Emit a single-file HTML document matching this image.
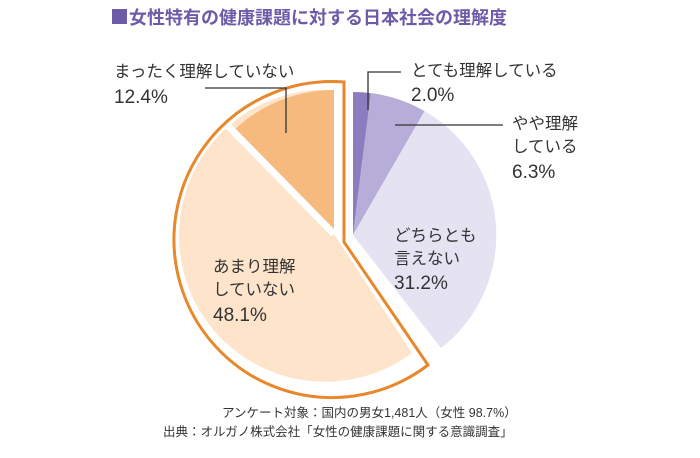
<!DOCTYPE html>
<html><head><meta charset="utf-8"><style>
body{margin:0;background:#fff;}
svg text{font-family:"Liberation Sans","Noto Sans CJK JP",sans-serif;fill:#333;}
</style></head><body>
<svg width="700" height="453" viewBox="0 0 700 453" xmlns="http://www.w3.org/2000/svg">
<rect width="700" height="453" fill="#fff"/>
<rect x="112" y="9" width="15" height="15" fill="#6e5ba8"/>
<text x="129" y="24" font-size="18" font-weight="bold" style="fill:#6e5ba8">女性特有の健康課題に対する日本社会の理解度</text>

<path d="M353,235 L353,92 A143,143 0 0,1 370.9,93.1 Z" fill="#8b7dbf"/>
<path d="M353,235 L370.9,93.1 A143,143 0 0,1 424.6,111.1 Z" fill="#b6add9"/>
<path d="M353,235 L424.6,111.1 A143,143 0 0,1 441,348 Z" fill="#e5e2f2"/>

<path d="M344,242 L344,82 A158,158 0 1,0 428,365 Z" fill="none" stroke="#e8872b" stroke-width="3" stroke-linejoin="miter"/>
<path d="M334,234 L334,90 A146,146 0 1,0 412,353 Z" fill="#fde4ca"/>
<path d="M334,234 L334,90 A146,146 0 0,0 233,131 Z" fill="#f6b97e"/>
<line x1="334" y1="234" x2="228" y2="126" stroke="#fff" stroke-width="7"/>

<polyline points="205,88 286,88 286,133" fill="none" stroke="#333" stroke-width="1.3"/>
<polyline points="401,72 368,72 368,110" fill="none" stroke="#333" stroke-width="1.3"/>
<line x1="395" y1="125" x2="503" y2="125" stroke="#333" stroke-width="1.3"/>

<text x="114" y="77" font-size="16.5">まったく理解していない</text>
<text x="114" y="103" font-size="19">12.4%</text>
<text x="411" y="76" font-size="16.5">とても理解している</text>
<text x="411" y="101" font-size="19">2.0%</text>
<text x="512" y="129" font-size="16.5">やや理解</text>
<text x="512" y="152" font-size="16.5">している</text>
<text x="512" y="178" font-size="19">6.3%</text>
<text x="394" y="241" font-size="16.5">どちらとも</text>
<text x="394" y="264" font-size="16.5">言えない</text>
<text x="394" y="289" font-size="19">31.2%</text>
<text x="213" y="272" font-size="16.5">あまり理解</text>
<text x="213" y="295" font-size="16.5">していない</text>
<text x="213" y="321" font-size="19">48.1%</text>

<text x="222" y="417" font-size="12.5">アンケート対象：国内の男女1,481人（女性 98.7%）</text>
<text x="163" y="436" font-size="12.5">出典：オルガノ株式会社「女性の健康課題に関する意識調査」</text>
</svg>
</body></html>
